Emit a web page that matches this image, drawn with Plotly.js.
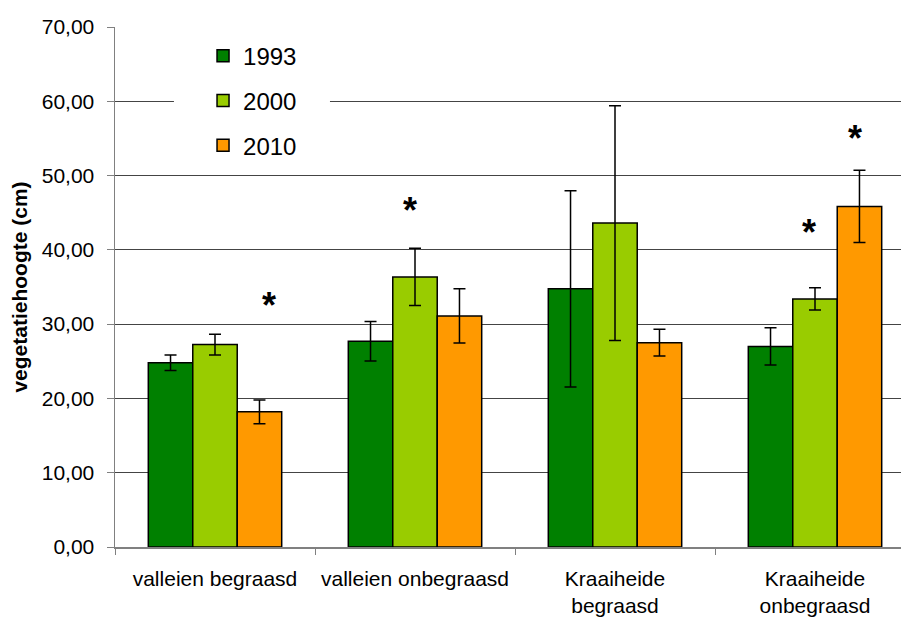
<!DOCTYPE html>
<html>
<head>
<meta charset="utf-8">
<script src="https://cdn.plot.ly/plotly-3.0.1.min.js"></script>
<style>html,body{margin:0;padding:0;background:#fff;overflow:hidden;}</style>
</head>
<body>
<div id="chart" style="width:901px;height:617px;"></div>
<script>
const categories = ["valleien begraasd", "valleien onbegraasd", "Kraaiheide<br>begraasd", "Kraaiheide<br>onbegraasd"];
const seriesNames = ["1993", "2000", "2010"];
const values1993 = [24.8, 27.7, 34.75, 27.0];
const errors1993 = [1.05, 2.65, 13.2, 2.5];
const values2000 = [27.25, 36.35, 43.6, 33.4];
const errors2000 = [1.4, 3.85, 15.8, 1.5];
const values2010 = [18.2, 31.1, 27.5, 45.85];
const errors2010 = [1.6, 3.65, 1.8, 4.85];
const colors = ["#008000", "#99CC00", "#FF9900"];

const allValues = [values1993, values2000, values2010];
const allErrors = [errors1993, errors2000, errors2010];

const traces = seriesNames.map((name, i) => ({
  type: "bar",
  name: name,
  x: categories,
  y: allValues[i],
  legendgroup: name,
  marker: { color: colors[i], line: { color: "#000", width: 1.5 } },
  error_y: { type: "data", array: allErrors[i], visible: true, color: "#000", thickness: 1.5, width: 6 }
}));

const starFont = { family: "Liberation Sans, Arial, sans-serif", size: 36, color: "#000" };
const star = (x, y) => ({ x: x, y: y, xref: "x", yref: "y", text: "<b>*</b>", showarrow: false, font: starFont, xanchor: "center", yanchor: "middle", yshift: -5 });

const layout = {
  width: 901,
  height: 617,
  margin: { l: 115, r: 0, t: 27, b: 70, pad: 0 },
  paper_bgcolor: "#fff",
  plot_bgcolor: "#fff",
  separators: ",.",
  font: { family: "Liberation Sans, Arial, sans-serif", size: 21, color: "#000" },
  barmode: "group",
  bargap: 0.333,
  bargroupgap: 0,
  showlegend: true,
  legend: {
    x: 0.112, xanchor: "left", y: 0.987, yanchor: "top",
    bgcolor: "#fff", borderwidth: 0,
    font: { size: 24, family: "Liberation Sans, Arial, sans-serif" },
    traceorder: "grouped", tracegroupgap: 10.5
  },
  shapes: [
    { type: "rect", xref: "paper", yref: "y", x0: 0.075, x1: 0.2735, y0: 58, y1: 62,
      fillcolor: "#fff", line: { width: 0 }, layer: "above" }
  ],
  xaxis: {
    type: "category",
    range: [-0.5, 3.43],
    showline: true, linecolor: "#808080", linewidth: 1.5,
    ticks: "outside", tickson: "boundaries", ticklen: 6, tickcolor: "#808080",
    showgrid: false, zeroline: false,
    ticklabelstandoff: 12,
    tickfont: { size: 21 }
  },
  yaxis: {
    range: [0, 70], dtick: 10, tickformat: ".2f",
    showline: true, linecolor: "#808080", linewidth: 1.5,
    ticks: "outside", ticklen: 7, tickcolor: "#808080",
    showgrid: true, gridcolor: "#444", gridwidth: 1,
    zeroline: false,
    ticklabelstandoff: 8,
    tickfont: { size: 21 },
    title: { text: "<b>vegetatiehoogte (cm)</b>", font: { size: 21 }, standoff: 8 }
  },
  annotations: [
    star(0.27, 33.2),
    star(0.974, 46.0),
    star(2.97, 43.0),
    star(3.2, 55.6)
  ]
};

Plotly.newPlot("chart", traces, layout, { displayModeBar: false, staticPlot: true });
</script>
</body>
</html>
